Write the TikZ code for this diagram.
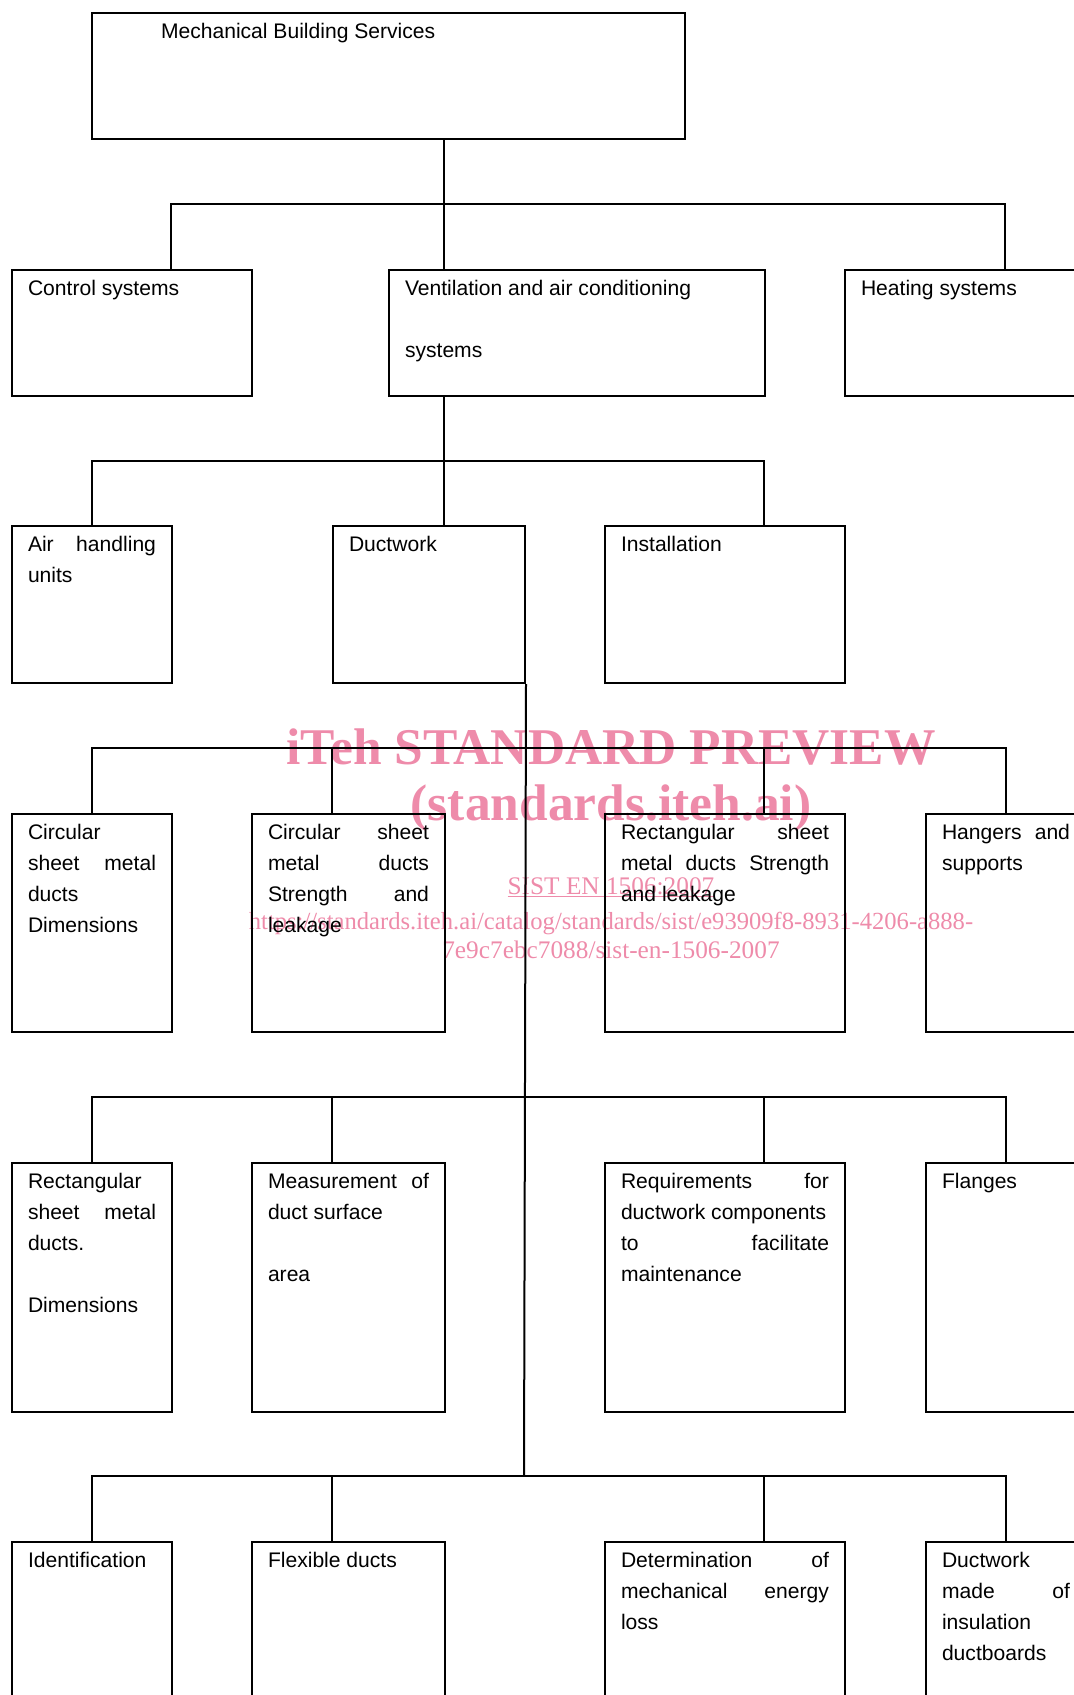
\documentclass[tikz,border=0pt]{standalone}
\usepackage{fontspec}
\setmainfont{Liberation Sans}
\newfontfamily\wmfont{Liberation Serif}
\definecolor{wmpink}{RGB}{238,139,170}
\newlength\pxu
\setlength\pxu{0.2mm}
\newcommand\celltext[3]{\parbox[t][#2\pxu][t]{#1\pxu}{\rule{0pt}{25\pxu}#3}}

\begin{document}
\begin{tikzpicture}[x=0.2mm, y=-0.2mm, line width=0.4mm]
  \tikzstyle{block} = [draw, rectangle, anchor=north west, inner xsep=16\pxu, inner ysep=0pt, font=\fontsize{12pt}{17.75pt}\selectfont]
  \tikzstyle{wmtext} = [anchor=base, inner sep=0pt, text=wmpink]
  \useasboundingbox (0,0) rectangle (1074,1695);
  \clip (0,0) rectangle (1074,1695);

  % watermark, under the chart
  \node [wmtext, font=\wmfont\bfseries\fontsize{29.3pt}{31pt}\selectfont] (wm1) at (611,764) {iTeh STANDARD PREVIEW};
  \node [wmtext, font=\wmfont\bfseries\fontsize{29.3pt}{31pt}\selectfont] (wm2) at (611,820) {(standards.iteh.ai)};
  \node [wmtext, font=\wmfont\fontsize{14.4pt}{16pt}\selectfont] (wm3) at (611,894) {\underline{SIST EN 1506:2007}};
  \node [wmtext, font=\wmfont\fontsize{14pt}{16pt}\selectfont] (wm4) at (611,929) {https://standards.iteh.ai/catalog/standards/sist/e93909f8-8931-4206-a888-};
  \node [wmtext, font=\wmfont\fontsize{14.4pt}{16pt}\selectfont] (wm5) at (611,958) {7e9c7ebc7088/sist-en-1506-2007};

  \node [block] (top) at (91,12) {\celltext{561}{126}{\hspace*{53\pxu}Mechanical Building Services}};
  \node [block] (ctrl) at (11,269) {\celltext{208}{126}{Control systems}};
  \node [block] (vent) at (388,269) {\celltext{344}{126}{Ventilation and air conditioning\\[\baselineskip]systems}};
  \node [block] (heat) at (844,269) {\celltext{208}{126}{Heating systems}};

  \node [block] (air) at (11,525) {\celltext{128}{157}{Air\hfill handling\\units}};
  \node [block] (duct) at (332,525) {\celltext{160}{157}{Ductwork}};
  \node [block] (inst) at (604,525) {\celltext{208}{157}{Installation}};

  \node [block] (r4a) at (11,813) {\celltext{128}{218}{Circular\\sheet\hfill metal\\ducts\\Dimensions}};
  \node [block] (r4b) at (251,813) {\celltext{161}{218}{Circular\hfill sheet\\metal\hfill ducts\\Strength\hfill and\\leakage}};
  \node [block] (r4c) at (604,813) {\celltext{208}{218}{Rectangular\hfill sheet\\metal\hfill ducts\hfill Strength\\and leakage}};
  \node [block] (r4d) at (925,813) {\celltext{128}{218}{Hangers\hfill and\\supports}};

  \node [block] (r5a) at (11,1162) {\celltext{128}{249}{Rectangular\\sheet\hfill metal\\ducts.\\[\baselineskip]Dimensions}};
  \node [block] (r5b) at (251,1162) {\celltext{161}{249}{Measurement\hfill of\\duct surface\\[\baselineskip]area}};
  \node [block] (r5c) at (604,1162) {\celltext{208}{249}{Requirements\hfill for\\ductwork components\\to\hfill facilitate\\maintenance}};
  \node [block] (r5d) at (925,1162) {\celltext{128}{249}{Flanges}};

  \node [block] (r6a) at (11,1541) {\celltext{128}{249}{Identification}};
  \node [block] (r6b) at (251,1541) {\celltext{161}{249}{Flexible ducts}};
  \node [block] (r6c) at (604,1541) {\celltext{208}{249}{Determination\hfill of\\mechanical\hfill energy\\loss}};
  \node [block] (r6d) at (925,1541) {\celltext{128}{249}{Ductwork\\made\hfill of\\insulation\\ductboards}};

  % bus points
  \coordinate (bus1) at (444,204);
  \coordinate (bus1w) at (171,204);
  \coordinate (bus1e) at (1005,204);
  \coordinate (bus2) at (444,461);
  \coordinate (bus2e) at (764,461);
  \coordinate (bus4) at (524,748);
  \coordinate (bus5) at (524,1097);
  \coordinate (bus6) at (524,1476);
  \coordinate (colb) at (332,0);
  \coordinate (colc) at (764,0);

  \draw (top.south -| bus1) -- (vent.north -| bus1);
  \draw (ctrl.north -| bus1w) -- (bus1w) -- (bus1e) -- (heat.north -| bus1e);

  \draw (vent.south -| bus2) -- (duct.north -| bus2);
  \draw (air.north) |- (bus2e) -- (inst.north -| bus2e);

  \draw (duct.south east) -- (bus6);

  \draw (r4a.north) |- (bus4) -| (r4d.north);
  \draw (r4b.north -| colb) -- (bus4 -| colb);
  \draw (r4c.north -| colc) -- (bus4 -| colc);

  \draw (r5a.north) |- (bus5) -| (r5d.north);
  \draw (r5b.north -| colb) -- (bus5 -| colb);
  \draw (r5c.north -| colc) -- (bus5 -| colc);

  \draw (r6a.north) |- (bus6) -| (r6d.north);
  \draw (r6b.north -| colb) -- (bus6 -| colb);
  \draw (r6c.north -| colc) -- (bus6 -| colc);
\end{tikzpicture}
\end{document}
